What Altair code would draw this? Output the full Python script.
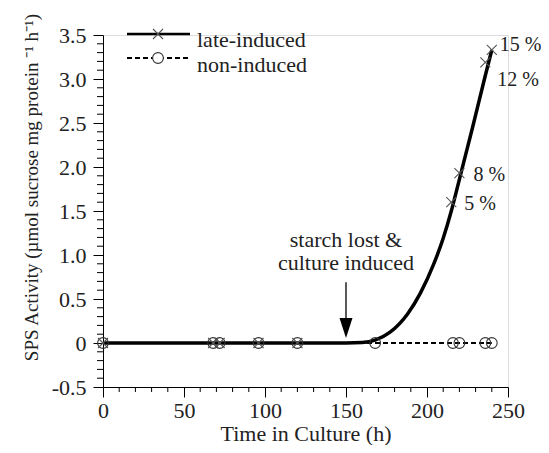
import altair as alt
import pandas as pd

# ---- data ----
non_t = [0, 68, 72, 96, 120, 168, 216, 220, 236, 240]
non_v = [0, 0, 0, 0, 0, 0, 0, 0, 0, 0]

late_t = [0, 68, 72, 96, 120, 215, 220, 236, 240]
late_v = [0, 0, 0, 0, 0, 1.60, 1.93, 3.19, 3.33]

curve_t = [0, 120, 150, 160, 168, 177, 188, 196, 204, 210, 215, 220, 228, 236, 240]
curve_v = [0, 0, 0, 0.005, 0.033, 0.12, 0.33, 0.57, 0.89, 1.19, 1.50, 1.86, 2.44, 3.04, 3.33]

pct_labels = ["5 %", "8 %", "12 %", "15 %"]
pct_t = [215, 220, 236, 240]
pct_v = [1.60, 1.93, 3.19, 3.33]
pct_dx = [13, 14, 12, 8]
pct_dy = [2, 2, 18, -5]

annot_lines = ["starch lost &", "culture induced"]
annot_line_v = [1.09, 0.83]
annot_t = 150
arrow_top = 0.69
arrow_head_v = 0.17

y_major = [-0.5, 0, 0.5, 1.0, 1.5, 2.0, 2.5, 3.0, 3.5]
x_major = [0, 50, 100, 150, 200, 250]
y_minor = [round(-0.5 + i * 0.1, 1) for i in range(41) if i % 5 != 0]
x_minor = [t for t in range(0, 251, 10) if t % 50 != 0]

FONT = "Liberation Serif"
FS = 22
W, H = 405, 352
TXT = "#222"

non_df = pd.DataFrame({"t": non_t, "v": non_v})
late_df = pd.DataFrame({"t": late_t, "v": late_v})
curve_df = pd.DataFrame({"t": curve_t, "v": curve_v})
annot_df = pd.DataFrame({"t": [annot_t] * 2, "v": annot_line_v, "txt": annot_lines})
arrow_df = pd.DataFrame({"t": [annot_t], "v": [arrow_top], "v2": [arrow_head_v]})
ymin_df = pd.DataFrame({"v": y_minor})
xmin_df = pd.DataFrame({"t": x_minor})

x_scale = alt.Scale(domain=[0, 250], nice=False, zero=False)
y_scale = alt.Scale(domain=[-0.5, 3.5], nice=False, zero=False)

x_axis = alt.Axis(
    title="Time in  Culture (h)", values=x_major, format="d",
    tickSize=10, labelFont=FONT, labelFontSize=FS, titleFont=FONT, titleFontSize=FS,
    titleFontWeight="normal", labelColor=TXT, titleColor=TXT,
    domainColor="#000", tickColor="#000", labelPadding=3,
    titleBaseline="alphabetic", titleY=53,
    grid=False, labelFlush=False, labelOverlap=False,
)
y_axis = alt.Axis(
    title="SPS Activity (µmol sucrose mg protein ⁻¹ h⁻¹)", values=y_major,
    labelExpr="abs(datum.value) < 0.001 ? '0' : (datum.value < 0 ? '-' + format(-datum.value, '.1f') : format(datum.value, '.1f'))",
    tickSize=10, labelFont=FONT, labelFontSize=FS, titleFont=FONT, titleFontSize=19,
    titleFontWeight="normal", labelColor=TXT, titleColor=TXT,
    domainColor="#000", tickColor="#000", labelPadding=7,
    titleX=-66, titleY=152, titleAngle=-90, titleAlign="center", titleBaseline="alphabetic",
    grid=False, labelFlush=False, labelOverlap=False,
)

base_x = alt.X("t:Q", scale=x_scale, axis=x_axis)
base_y = alt.Y("v:Q", scale=y_scale, axis=y_axis)

CROSS = "M-1,-1L1,1M-1,1L1,-1"
TRI = "M-0.65,-1L0.65,-1L0,1Z"

non_line = alt.Chart(non_df).mark_line(color="#000", strokeDash=[5, 3], strokeWidth=2).encode(x=base_x, y=base_y)
curve = alt.Chart(curve_df).mark_line(color="#000", strokeWidth=3.5, interpolate="monotone").encode(x="t:Q", y="v:Q")
non_pts = alt.Chart(non_df).mark_point(shape="circle", filled=False, color="#333", size=115, strokeWidth=1.1, opacity=1).encode(x="t:Q", y="v:Q")
late_pts = alt.Chart(late_df).mark_point(shape=CROSS, filled=False, color="#555", size=100, strokeWidth=1.1, opacity=1).encode(x="t:Q", y="v:Q")

pct_layers = []
for lab, t, v, dx, dy in zip(pct_labels, pct_t, pct_v, pct_dx, pct_dy):
    df = pd.DataFrame({"t": [t], "v": [v], "lab": [lab]})
    pct_layers.append(
        alt.Chart(df).mark_text(font=FONT, fontSize=20, align="left", baseline="middle", color=TXT, dx=dx, dy=dy)
        .encode(x="t:Q", y="v:Q", text="lab:N")
    )

annot = alt.Chart(annot_df).mark_text(font=FONT, fontSize=FS, align="center", baseline="alphabetic", color=TXT).encode(
    x="t:Q", y="v:Q", text="txt:N"
)
arrow_rule = alt.Chart(arrow_df).mark_rule(color="#000", strokeWidth=1.3).encode(x="t:Q", y="v:Q", y2="v2:Q")
arrow_head = alt.Chart(arrow_df).mark_point(shape=TRI, filled=True, color="#000", size=400, opacity=1).encode(x="t:Q", y="v2:Q")

# minor ticks
y_minor_ticks = alt.Chart(ymin_df).mark_rule(color="#000", strokeWidth=1).encode(y="v:Q", x=alt.value(-6), x2=alt.value(0))
x_minor_ticks = alt.Chart(xmin_df).mark_rule(color="#000", strokeWidth=1).encode(x="t:Q", y=alt.value(H), y2=alt.value(H + 5))

# ---- legend (drawn in plot-pixel space) ----
leg = pd.DataFrame({"k": [0]})
leg_solid = alt.Chart(leg).mark_rule(color="#000", strokeWidth=2.5).encode(x=alt.value(24), x2=alt.value(87), y=alt.value(-1))
leg_cross = alt.Chart(leg).mark_point(shape=CROSS, filled=False, color="#555", size=100, strokeWidth=1.1, opacity=1).encode(x=alt.value(55), y=alt.value(-1))
leg_dash = alt.Chart(leg).mark_rule(color="#000", strokeWidth=2, strokeDash=[5, 3]).encode(x=alt.value(24), x2=alt.value(87), y=alt.value(23))
leg_circ = alt.Chart(leg).mark_point(shape="circle", filled=True, fill="white", stroke="#333", size=115, strokeWidth=1.1, opacity=1).encode(x=alt.value(55), y=alt.value(23))
leg_t1 = alt.Chart(leg).mark_text(font=FONT, fontSize=FS, align="left", baseline="alphabetic", color=TXT, text="late-induced").encode(x=alt.value(94), y=alt.value(12))
leg_t2 = alt.Chart(leg).mark_text(font=FONT, fontSize=FS, align="left", baseline="alphabetic", color=TXT, text="non-induced").encode(x=alt.value(94), y=alt.value(37))

chart = alt.layer(
    non_line, curve, non_pts, late_pts, *pct_layers, annot, arrow_rule, arrow_head,
    y_minor_ticks, x_minor_ticks,
    leg_solid, leg_cross, leg_dash, leg_circ, leg_t1, leg_t2,
).properties(
    width=W, height=H,
    autosize=alt.AutoSizeParams(type="none"),
    padding={"left": 95, "top": 27, "right": 33, "bottom": 58},
).configure_view(stroke=None).configure(background="white")

chart.save("out.html", embed_options={"renderer": "svg", "actions": False})
